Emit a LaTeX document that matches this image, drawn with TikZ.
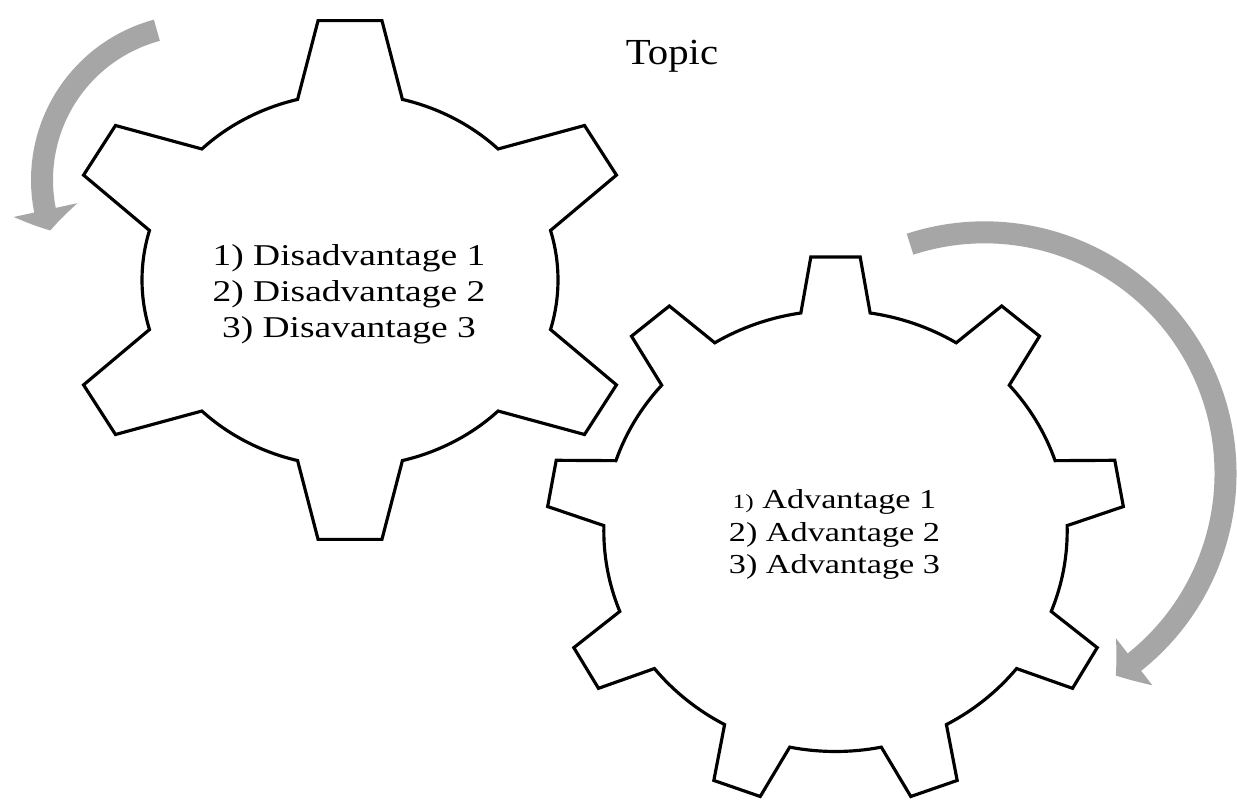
\documentclass[tikz,border=0pt]{standalone}
\usepackage{fontspec}
\setmainfont{Liberation Serif}
\newfontfamily\gearfontA[FakeStretch=1.24]{Liberation Serif}
\newfontfamily\gearfontB[FakeStretch=1.25]{Liberation Serif}
\newfontfamily\topicfont[FakeStretch=1.11]{Liberation Serif}
\usetikzlibrary{arrows.meta,bending}
\definecolor{arrowgray}{RGB}{166,166,166}

% #1 teeth, #2 angle of first tooth, #3 half-angle at the root, #4 half-angle at the tip,
% #5/#6 root radii (x/y), #7/#8 tip radii (x/y)
\newcommand\gearshape[8]{%
  \pgfmathsetmacro\gstep{360/#1}%
  \draw[gearline] ({#2-#3}:#5 and #6)
    \foreach \k in {1,...,#1}{
      -- ({#2+(\k-1)*\gstep-#4}:#7 and #8)
      -- ({#2+(\k-1)*\gstep+#4}:#7 and #8)
      -- ({#2+(\k-1)*\gstep+#3}:#5 and #6)
      arc[start angle={#2+(\k-1)*\gstep+#3}, end angle={#2+\k*\gstep-#3},
          x radius=#5, y radius=#6]
    } -- cycle;
}

\tikzset{
  gearline/.style={draw=black, line width=1.8pt, line join=miter, fill=white},
  bigarrow/.style={draw=arrowgray, line width=0.44cm, line cap=butt},
  gtext/.style={align=center, inner sep=0pt, text=black}
}

\begin{document}
\begin{tikzpicture}[x=0.02cm, y=0.02cm]
  \fill[white] (0,0) rectangle (1237,805);
  \useasboundingbox (0,0) rectangle (1237,805);

  % rotation arrows
  \coordinate (lc) at (197,625);
  \coordinate (rc) at (984.5,331.6);
  \draw[bigarrow, -{Triangle[length=0.42cm, width=1.28cm, bend]}]
    (lc) ++(105:155) arc[start angle=105, end angle=199, radius=155];
  \draw[bigarrow, -{Triangle[length=0.46cm, width=1.16cm, bend]}]
    (rc) ++(108:241) arc[start angle=108, end angle=-57, radius=241];

  % left gear: six teeth
  \begin{scope}[shift={(350,525)}]
    \gearshape{6}{30}{14.6}{6.3}{208}{186.6}{291}{261}
  \end{scope}

  % right gear: nine teeth
  \begin{scope}[shift={(835.5,274)}]
    \gearshape{9}{90}{8.6}{4.9}{231.7}{220.5}{289}{275}
  \end{scope}

  \node[gtext, font=\gearfontA\fontsize{17.2}{20.5}\selectfont] (dis) at (349,511.2)
    {1) Disadvantage 1\\2) Disadvantage 2\\3) Disavantage 3};
  \node[gtext, font=\gearfontB\fontsize{15.6}{18.5}\selectfont] (adv) at (834.5,270.5)
    {{\fontsize{11.5}{18.5}\selectfont 1)} Advantage 1\\2) Advantage 2\\3) Advantage 3};
  \node[anchor=base, inner sep=0pt, font=\topicfont\fontsize{20.9}{25}\selectfont] (topic) at (672,740) {Topic};
\end{tikzpicture}
\end{document}
